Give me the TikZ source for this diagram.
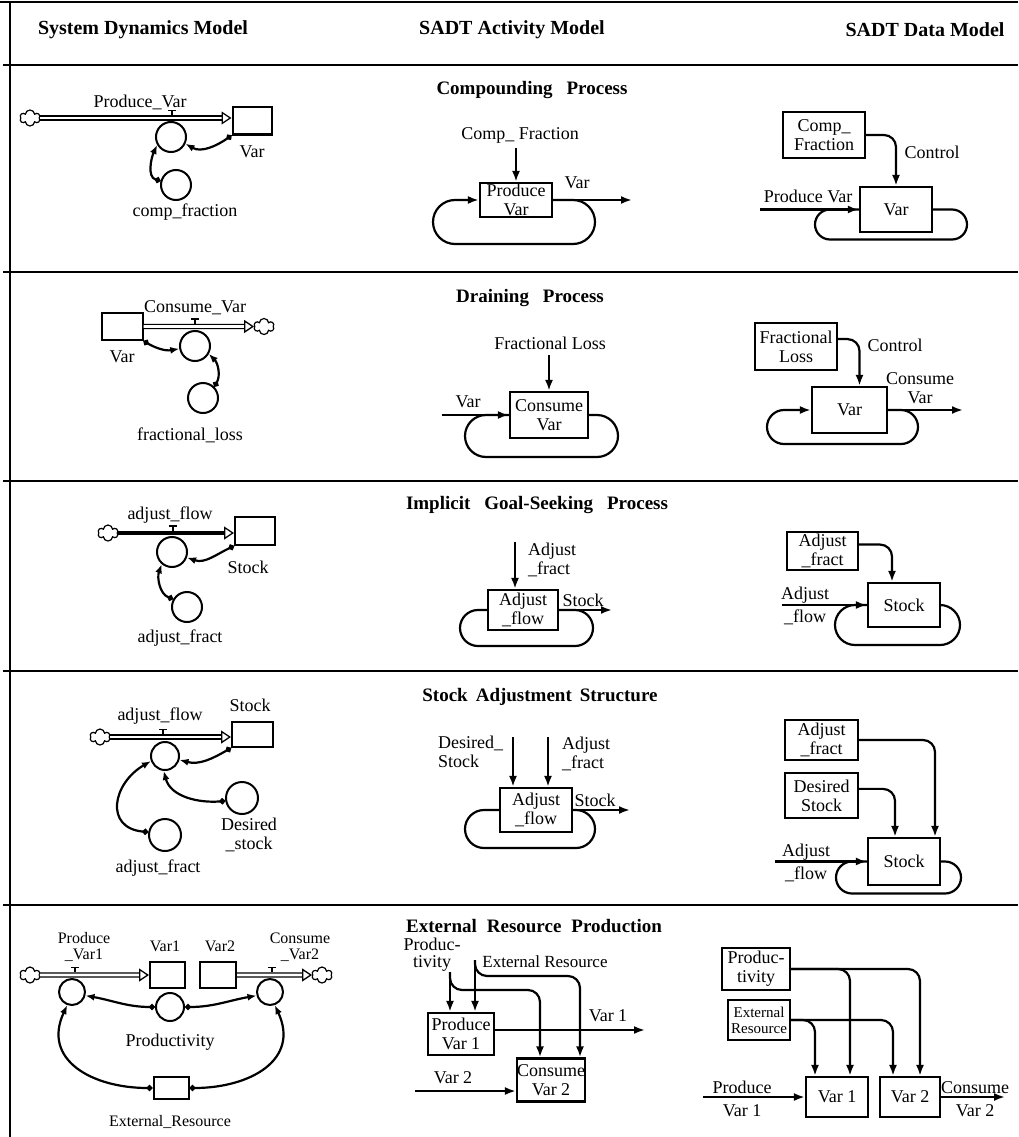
\documentclass[tikz,border=0pt]{standalone}
\usepackage{fontspec}
\setmainfont{Liberation Serif}
\usetikzlibrary{arrows.meta,shapes.symbols,calc}
\begin{document}
\begin{tikzpicture}[x=1pt,y=-1pt,
  every node/.style={font=\fontsize{18}{19}\selectfont, inner sep=0pt, align=center},
  hdr/.style={font=\fontsize{20}{22}\selectfont\bfseries},
  ttl/.style={font=\fontsize{19}{21}\selectfont\bfseries},
  bx/.style={draw, line width=2.2pt},
  stk/.style={draw, line width=2pt},
  ln/.style={line width=2.2pt},
  arr/.style={line width=2.2pt, -{Latex[length=11pt,width=8pt]}},
  larr/.style={line width=2.2pt, -{Latex[length=11pt,width=8pt]}},
  cnv/.style={draw, circle, line width=2pt, minimum size=#1},
  cnv/.default=30pt,
  lnk/.style={line width=2.2pt, {Circle[length=6pt]}-{Latex[length=9pt,width=7pt]}},
  pipe/.style={double, double distance=2.6pt, line width=1.3pt, -{Triangle[open,length=10pt,width=13pt,line width=1.3pt]}},
  pipethick/.style={line width=4pt, -{Triangle[open,length=10pt,width=13pt,line width=1.3pt]}},
  cld/.style={cloud, draw, cloud puffs=6, cloud puff arc=170, aspect=1.3, minimum width=20pt, minimum height=16pt, line width=1.2pt},
  valve/.pic={\draw[line width=1.3pt] (0,0) -- (0,-5) (-4,-5) -- (4,-5);},
]
\useasboundingbox (0,0) rectangle (1018,1137);
% frame
\draw[line width=2.5pt] (0,2) -- (1018,2);
\draw[line width=1.5pt] (10,2) -- (10,1137);
\foreach \yy in {65,272,481,671,905} \draw[line width=1.2pt] (3,\yy) -- (1018,\yy);
% headers
\node[hdr] (h1) at (143,30) {System Dynamics Model};
\node[hdr] (h2) at (512,30) {SADT Activity Model};
\node[hdr] (h3) at (925,30) {SADT Data Model};
% titles
\node[ttl] (t1) at (532,90) {Compounding\hspace{14pt}Process};
\node[ttl] (t2) at (530,298) {Draining\hspace{14pt}Process};
\node[ttl] (t3) at (537,505) {Implicit\hspace{14pt}Goal-Seeking\hspace{14pt}Process};
\node[ttl] (t4) at (540,697) {Stock\hspace{8pt}Adjustment\hspace{8pt}Structure};
\node[ttl] (t5) at (534,926) {External\hspace{10pt}Resource\hspace{10pt}Production};

%%%%%%%% ROW 1
\node[cld] (c1) at (30,118) {};
\node[stk, minimum width=39pt, minimum height=27pt] (s1) at (252,121) {};
\draw[pipe] (c1.east) -- (s1.west |- c1.east);
\pic at (172,115.4) {valve};
\node (l1a) at (140,102) {Produce\_Var};
\node[cnv] (f1) at (171,137) {};
\node[cnv] (a1) at (176,185) {};
\node (l1b) at (252,152) {Var};
\node (l1c) at (185,212) {comp\_fraction};
\draw[lnk] (s1.south west) to[out=215, in=-30] (f1.-25);
\draw[lnk] (a1.165) to[out=165, in=245] (f1.210);
% activity
\node (l1d) at (520,135) {Comp\_ Fraction};
\coordinate (k1) at (516,148);
\node[bx, minimum width=72pt, minimum height=34pt] (p1) at (516,200) {Produce\\Var};
\draw[arr] (k1) -- (p1.north);
\coordinate (o1) at (632,200);
\draw[arr] (p1.east) -- (o1);
\node (l1e) at (577,183) {Var};
\draw[larr] (p1.east) -- (573,200) arc[start angle=-90,end angle=90,radius=22] -- (455,244) arc[start angle=90,end angle=270,radius=22] -- (p1.west);
% data
\node[bx, minimum width=82pt, minimum height=46pt] (d1) at (824,135) {Comp\_\\Fraction};
\node[bx, minimum width=72pt, minimum height=45pt] (v1) at (896,209.5) {Var};
\draw[arr, rounded corners=12pt] (d1.east) -| (v1.north);
\node (l1f) at (932,152) {Control};
\coordinate (i1) at (760,209.5);
\draw[arr] (i1) -- (v1.west);
\node (l1g) at (808,196) {Produce Var};
\draw[ln] (v1.east) -- (952,209.5) arc[start angle=-90,end angle=90,radius=15] -- (830,239.5) arc[start angle=90,end angle=270,radius=15] -- (v1.west);

%%%%%%%% ROW 2
\node[stk, minimum width=41pt, minimum height=27pt] (s2) at (122,326.5) {};
\node[cld] (c2) at (264,326.5) {};
\draw[pipe] (s2.east) -- (c2.west);
\pic at (195,323.9) {valve};
\node (l2a) at (195,308) {Consume\_Var};
\node[cnv] (f2) at (195,346) {};
\node[cnv] (a2) at (203,398) {};
\node (l2b) at (122,357) {Var};
\node (l2c) at (190,435) {fractional\_loss};
\draw[lnk] (s2.south east) to[out=-30, in=190] (f2.190);
\draw[lnk] (a2.45) to[out=60, in=-45] (f2.-30);
% activity
\node (l2d) at (550,343) {Fractional Loss};
\coordinate (k2) at (549,355);
\node[bx, minimum width=78pt, minimum height=46pt] (p2) at (549,415) {Consume\\Var};
\draw[arr] (k2) -- (p2.north);
\coordinate (i2) at (442,415);
\draw[arr] (i2) -- (p2.west);
\node (l2e) at (468,402) {Var};
\draw[ln] (p2.east) -- (597,415) arc[start angle=-90,end angle=90,radius=21] -- (486,457) arc[start angle=90,end angle=270,radius=21] -- (p2.west);
% data
\node[bx, minimum width=82pt, minimum height=47pt] (d2) at (796,346.5) {Fractional\\Loss};
\node[bx, minimum width=75pt, minimum height=46pt] (v2) at (849.5,410) {Var};
\draw[arr, rounded corners=12pt] (d2.10) -| ([xshift=10pt]v2.north);
\node (l2f) at (895,345) {Control};
\coordinate (o2) at (963,410);
\draw[arr] (v2.east) -- (o2);
\node (l2g) at (920,388) {Consume\\Var};
\draw[larr] (v2.east) -- (901,410) arc[start angle=-90,end angle=90,radius=17] -- (784,444) arc[start angle=90,end angle=270,radius=17] -- (v2.west);

%%%%%%%% ROW 3
\node[cld] (c3) at (108,533) {};
\node[stk, minimum width=40pt, minimum height=28pt] (s3) at (255,531) {};
\draw[pipethick] (c3.east) -- (s3.west |- c3.east);
\pic at (173,531) {valve};
\node (l3a) at (170,515) {adjust\_flow};
\node[cnv] (f3) at (172,552) {};
\node[cnv] (a3) at (187,607) {};
\node (l3b) at (248,567) {Stock};
\node (l3c) at (180,638) {adjust\_fract};
\draw[lnk] (s3.south west) to[out=205, in=-20] (f3.-20);
\draw[lnk] (a3.150) to[out=160, in=250] (f3.230);
% activity
\coordinate (k3) at (515,542);
\node[bx, minimum width=70pt, minimum height=40pt] (p3) at (523,610) {Adjust\\\_flow};
\draw[arr] (k3) -- (k3 |- p3.north);
\node[anchor=west, align=left] (l3d) at (528,560) {Adjust\\\_fract};
\node (l3e) at (583,600) {Stock};
\coordinate (o3) at (612,610);
\draw[arr] (p3.east) -- (o3);
\draw[ln] (p3.east) -- (575,610) arc[start angle=-90,end angle=90,radius=18] -- (478,646) arc[start angle=90,end angle=270,radius=18] -- (p3.west);
% data
\node[bx, minimum width=71pt, minimum height=38pt] (d3) at (822.5,551) {Adjust\\\_fract};
\node[bx, minimum width=72pt, minimum height=44pt] (v3) at (904,605) {Stock};
\draw[arr, rounded corners=12pt] (d3.10) -| ([xshift=-12pt]v3.north);
\coordinate (i3) at (782,605);
\draw[arr] (i3) -- (v3.west);
\node (l3f) at (805,606) {Adjust\\[4pt]\_flow};
\draw[ln] (v3.east) -- (940,605) arc[start angle=-90,end angle=90,radius=20] -- (855,645) arc[start angle=90,end angle=270,radius=20] -- (v3.west);

%%%%%%%% ROW 4
\node[cld] (c4) at (100,737) {};
\node[stk, minimum width=41pt, minimum height=25pt] (s4) at (252.5,734.5) {};
\draw[pipe] (c4.east) -- (s4.west |- c4.east);
\pic at (163,734.4) {valve};
\node (l4a) at (160,716) {adjust\_flow};
\node (l4b) at (250,705) {Stock};
\node[cnv=28pt] (f4) at (165,756) {};
\node[cnv=32pt] (a4b) at (242,798) {};
\node (l4c) at (249,835) {Desired\\\_stock};
\node[cnv=32pt] (a4) at (165,835) {};
\node (l4d) at (158,868) {adjust\_fract};
\draw[lnk] (s4.south west) to[out=210, in=-15] (f4.-15);
\draw[lnk] (a4b.190) to[out=185, in=-75] (f4.-95);
\draw[lnk] (a4.170) to[out=175, in=210, looseness=1.6] (f4.200);
% activity
\node[bx, minimum width=72pt, minimum height=44pt] (p4) at (536,810) {Adjust\\\_flow};
\coordinate (k4a) at (513,737);
\coordinate (k4b) at (548,737);
\draw[arr] (k4a) -- (k4a |- p4.north);
\draw[arr] (k4b) -- (k4b |- p4.north);
\node[anchor=west, align=left] (l4e) at (438,752) {Desired\_\\Stock};
\node[anchor=west, align=left] (l4f) at (562,754) {Adjust\\\_fract};
\node (l4g) at (595,800) {Stock};
\coordinate (o4) at (630,810);
\draw[arr] (p4.east) -- (o4);
\draw[ln] (p4.east) -- (576,810) arc[start angle=-90,end angle=90,radius=19] -- (484,848) arc[start angle=90,end angle=270,radius=19] -- (p4.west);
% data
\node[bx, minimum width=73pt, minimum height=40pt] (d4) at (821.5,740) {Adjust\\\_fract};
\node[bx, minimum width=73pt, minimum height=45pt] (d4b) at (821.5,795.5) {Desired\\Stock};
\node[bx, minimum width=72pt, minimum height=47pt] (v4) at (904,861.5) {Stock};
\draw[arr, rounded corners=12pt] (d4.east) -| ([xshift=31pt]v4.north);
\draw[arr, rounded corners=12pt] (d4b.10) -| ([xshift=-9pt]v4.north);
\coordinate (i4) at (775,861.5);
\draw[arr] (i4) -- (v4.west);
\node (l4h) at (806,863) {Adjust\\[4pt]\_flow};
\draw[ln] (v4.east) -- (945,861.5) arc[start angle=-90,end angle=90,radius=16] -- (852,893.5) arc[start angle=90,end angle=270,radius=16] -- (v4.west);

%%%%%%%% ROW 5
\node[cld] (c5) at (30,975) {};
\node[stk, minimum width=35pt, minimum height=26pt] (b51) at (167.5,975) {};
\node[stk, minimum width=36pt, minimum height=26pt] (b52) at (218,975) {};
\node[cld] (c6) at (322,975) {};
\draw[pipe] (c5.east) -- (b51.west);
\draw[pipe] (b52.east) -- (c6.west);
\pic at (75,972.4) {valve};
\pic at (272,972.4) {valve};
\node[cnv=26pt] (f51) at (72,992) {};
\node[cnv=26pt] (f52) at (270,992) {};
\node[font=\fontsize{16}{16}\selectfont] (l5a) at (84,947) {Produce\\\_Var1};
\node[font=\fontsize{16}{16}\selectfont] (l5b) at (165,946) {Var1};
\node[font=\fontsize{16}{16}\selectfont] (l5c) at (220,946) {Var2};
\node[font=\fontsize{16}{16}\selectfont] (l5d) at (300,947) {Consume\\\_Var2};
\node[cnv=28pt] (pr) at (170,1007) {};
\node (l5e) at (170,1042) {Productivity};
\node[stk, minimum width=35pt, minimum height=22pt] (er) at (171,1088) {};
\node[font=\fontsize{16}{16}\selectfont] (l5f) at (170,1122) {External\_Resource};
\draw[lnk] (pr.180) to[out=180, in=-10] (f51.-15);
\draw[lnk] (pr.0) to[out=0, in=190] (f52.195);
\draw[lnk] (er.west) to[out=180, in=-115, looseness=1.3] (f51.-110);
\draw[lnk] (er.east) to[out=0, in=-65, looseness=1.3] (f52.-70);
% activity
\node[font=\fontsize{18}{17}\selectfont] (l5g) at (432,955) {Produc-\\tivity};
\node[font=\fontsize{17}{18}\selectfont] (l5h) at (545,962) {External Resource};
\node[bx, minimum width=66pt, minimum height=42pt] (pv1) at (461,1034) {Produce\\Var 1};
\node[bx, minimum width=68pt, minimum height=43pt] (cv2) at (551,1080) {Consume\\Var 2};
\coordinate (k5a) at (450,972);
\coordinate (k5b) at (475,960);
\coordinate (j5a) at (540,990);
\coordinate (j5b) at (580,976);
\draw[arr] (k5a) -- (k5a |- pv1.north);
\draw[arr] (k5b) -- (k5b |- pv1.north);
\draw[arr, rounded corners=12pt] (k5a) |- (j5a) -- (j5a |- cv2.north);
\draw[arr, rounded corners=12pt] (k5b) |- (j5b) -- (j5b |- cv2.north);
\coordinate (o5) at (645,1030);
\draw[arr] (pv1.east |- o5) -- (o5);
\node (l5i) at (608,1016) {Var 1};
\coordinate (i5) at (415,1091);
\draw[arr] (i5) -- (i5 -| cv2.west);
\node (l5j) at (453,1078) {Var 2};
% data
\node[bx, minimum width=68pt, minimum height=42pt] (dp) at (756,969) {Produc-\\tivity};
\node[bx, minimum width=62pt, minimum height=40pt, font=\fontsize{15}{16}\selectfont] (de) at (759,1020) {External\\Resource};
\node[bx, minimum width=62pt, minimum height=40pt] (dv1) at (837,1097) {Var 1};
\node[bx, minimum width=60pt, minimum height=40pt] (dv2) at (910,1097) {Var 2};
\draw[arr, rounded corners=12pt] (dp.east) -| ([xshift=10pt]dv2.north);
\draw[arr, rounded corners=12pt] (dp.east) -| ([xshift=13pt]dv1.north);
\draw[arr, rounded corners=12pt] (de.east) -| ([xshift=-17pt]dv2.north);
\draw[arr, rounded corners=12pt] (de.east) -| ([xshift=-22pt]dv1.north);
\coordinate (i6) at (703,1097);
\draw[arr] (i6) -- (dv1.west);
\node (l5k) at (742,1099) {Produce\\[4pt]Var 1};
\coordinate (o6) at (1005,1097);
\draw[arr] (dv2.east) -- (o6);
\node (l5l) at (975,1099) {Consume\\[4pt]Var 2};
\end{tikzpicture}
\end{document}
